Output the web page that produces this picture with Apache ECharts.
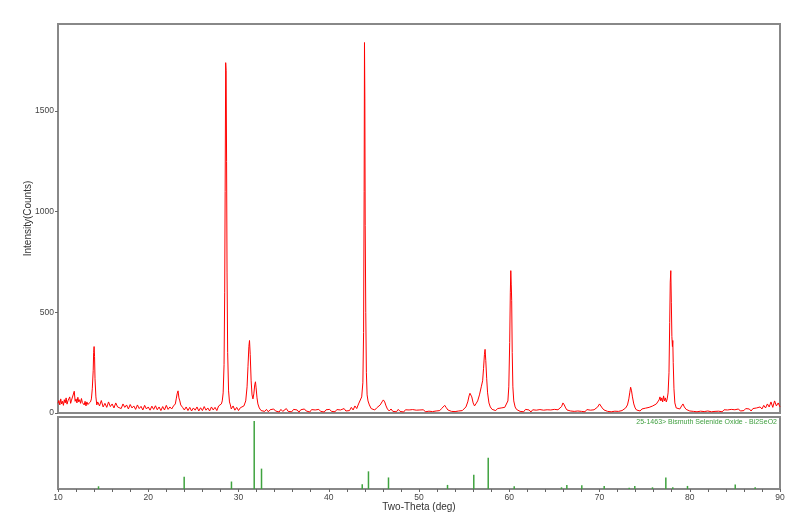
<!DOCTYPE html>
<html>
<head>
<meta charset="utf-8">
<script src="https://cdn.jsdelivr.net/npm/echarts@6/dist/echarts.min.js"></script>
<style>html,body{margin:0;padding:0;background:#fff}#c{width:800px;height:528px}</style>
</head>
<body>
<div id="c"></div>
<script>
// Measured XRD scan: [two-theta (deg), intensity (counts)]
const scan10to20 = [[10.0,48],[10.1,62],[10.2,40],[10.3,70],[10.4,45],[10.5,58],[10.6,38],[10.7,66],[10.8,50],[10.9,75],[11.0,44],[11.1,60],[11.2,52],[11.3,80],[11.4,48],[11.5,64],[11.6,55],[11.7,72],[11.8,108],[11.9,58],[12.0,70],[12.1,50],[12.2,78],[12.3,55],[12.4,66],[12.5,48],[12.6,72],[12.7,52],[12.8,60],[12.9,40],[13.0,58],[13.1,35],[13.2,55],[13.3,42],[13.4,50],[13.5,38],[13.6,55],[13.7,70],[13.8,120],[13.9,210],[13.95,300],[14.0,330],[14.05,280],[14.1,170],[14.2,80],[14.3,40],[14.4,55],[14.6,35],[14.8,62],[15.0,30],[15.2,48],[15.4,28],[15.6,55],[15.8,32],[16.0,45],[16.2,25],[16.4,50],[16.6,30],[16.8,38],[17.0,22],[17.2,45],[17.4,28],[17.6,40],[17.8,20],[18.0,42],[18.2,25],[18.4,35],[18.6,18],[18.8,40],[19.0,22],[19.2,33],[19.4,15],[19.6,38],[19.8,20]];
const scan20to30 = [[20.0,30],[20.2,14],[20.4,34],[20.6,18],[20.8,36],[21.0,16],[21.2,30],[21.4,12],[21.6,32],[21.8,15],[22.0,38],[22.2,18],[22.4,30],[22.6,20],[22.8,35],[23.0,45],[23.1,70],[23.2,95],[23.3,110],[23.4,75],[23.5,60],[23.6,40],[23.8,28],[24.0,15],[24.2,30],[24.4,12],[24.6,28],[24.8,10],[25.0,25],[25.2,14],[25.4,30],[25.6,10],[25.8,26],[26.0,12],[26.2,32],[26.4,14],[26.6,25],[26.8,10],[27.0,30],[27.2,15],[27.4,28],[27.6,12],[27.8,35],[28.0,30],[28.1,45],[28.2,60],[28.3,100],[28.4,240],[28.47,600],[28.52,1100],[28.58,1740],[28.63,1700],[28.68,1250],[28.73,700],[28.8,300],[28.9,110],[29.0,55],[29.1,40],[29.2,20],[29.4,35],[29.6,14],[29.8,28]];
const scan30to40 = [[30.0,12],[30.2,26],[30.4,18],[30.6,35],[30.8,60],[30.95,130],[31.05,230],[31.15,330],[31.22,360],[31.3,290],[31.4,160],[31.5,90],[31.6,70],[31.7,95],[31.8,140],[31.88,155],[31.95,125],[32.05,75],[32.15,45],[32.3,25],[32.5,12],[32.7,20],[32.9,8],[33.1,18],[33.3,6],[33.5,16],[33.7,8],[33.9,20],[34.1,10],[34.3,15],[34.5,5],[34.7,18],[34.9,8],[35.1,14],[35.3,22],[35.5,8],[35.7,16],[35.9,6],[36.1,18],[36.3,10],[36.5,15],[36.7,4],[36.9,16],[37.1,8],[37.3,20],[37.5,10],[37.7,14],[37.9,5],[38.1,17],[38.3,9],[38.5,15],[38.7,6],[38.9,18],[39.1,8],[39.3,14],[39.5,5],[39.7,16],[39.9,10]];
const scan40to50 = [[40.1,18],[40.3,8],[40.5,14],[40.7,6],[40.9,17],[41.1,10],[41.3,15],[41.5,8],[41.7,22],[41.9,10],[42.1,16],[42.3,12],[42.5,28],[42.7,15],[42.9,35],[43.1,22],[43.3,45],[43.5,50],[43.65,80],[43.78,150],[43.86,400],[43.92,1100],[43.96,1840],[44.0,1560],[44.04,930],[44.1,500],[44.17,200],[44.25,90],[44.35,60],[44.5,40],[44.7,22],[44.9,30],[45.1,15],[45.3,25],[45.5,30],[45.7,40],[45.9,55],[46.05,65],[46.2,55],[46.35,35],[46.5,20],[46.7,10],[46.9,20],[47.1,8],[47.3,16],[47.5,6],[47.7,18],[47.9,8],[48.1,14],[48.3,5],[48.5,16],[48.7,9],[48.9,15],[49.1,6],[49.3,17],[49.5,8],[49.7,14],[49.9,5]];
const scan50to60 = [[50.1,15],[50.3,8],[50.5,16],[50.7,6],[50.9,14],[51.1,9],[51.3,18],[51.5,7],[51.7,15],[51.9,10],[52.1,16],[52.3,12],[52.5,22],[52.7,30],[52.85,38],[53.0,28],[53.2,15],[53.4,20],[53.6,8],[53.8,16],[54.0,7],[54.2,14],[54.4,10],[54.6,18],[54.8,12],[55.0,20],[55.2,30],[55.4,55],[55.55,85],[55.65,98],[55.75,90],[55.85,80],[56.0,50],[56.15,35],[56.3,45],[56.5,60],[56.7,90],[56.9,130],[57.05,160],[57.15,220],[57.25,290],[57.32,316],[57.4,260],[57.5,170],[57.6,100],[57.75,50],[57.9,30],[58.1,18],[58.3,25],[58.5,12],[58.7,22],[58.9,15],[59.1,25],[59.3,18],[59.5,28],[59.7,35],[59.85,60],[59.95,130]];
const scan60to70 = [[60.05,350],[60.12,600],[60.17,707],[60.22,640],[60.27,560],[60.33,300],[60.4,130],[60.5,60],[60.65,30],[60.8,18],[61.0,22],[61.2,8],[61.4,16],[61.6,6],[61.8,18],[62.0,9],[62.2,15],[62.4,5],[62.6,16],[62.8,8],[63.0,14],[63.2,6],[63.4,17],[63.6,9],[63.8,14],[64.0,5],[64.2,16],[64.4,8],[64.6,15],[64.8,10],[65.0,18],[65.2,9],[65.4,16],[65.6,22],[65.8,32],[65.95,50],[66.1,40],[66.25,25],[66.4,15],[66.6,22],[66.8,10],[67.0,18],[67.2,8],[67.4,16],[67.6,10],[67.8,18],[68.0,8],[68.2,15],[68.4,6],[68.6,17],[68.8,9],[69.0,14],[69.2,8],[69.4,16],[69.6,22],[69.8,30]];
const scan70to80 = [[70.0,45],[70.15,38],[70.3,25],[70.5,15],[70.7,20],[70.9,8],[71.1,16],[71.3,6],[71.5,15],[71.7,9],[71.9,17],[72.1,8],[72.3,16],[72.5,12],[72.7,20],[72.9,25],[73.1,40],[73.25,70],[73.35,100],[73.45,128],[73.55,110],[73.65,80],[73.8,45],[73.95,25],[74.1,15],[74.3,22],[74.5,10],[74.7,20],[74.9,12],[75.1,24],[75.3,15],[75.5,28],[75.7,20],[75.9,35],[76.1,28],[76.3,45],[76.45,40],[76.6,65],[76.7,80],[76.8,60],[76.9,75],[77.0,55],[77.1,85],[77.2,60],[77.3,75],[77.4,55],[77.5,70],[77.6,100],[77.7,200],[77.78,450],[77.84,650],[77.9,707],[77.96,550],[78.02,380],[78.08,330],[78.12,360],[78.17,250],[78.25,120],[78.35,50],[78.5,25],[78.7,30],[78.9,20],[79.1,35],[79.25,45],[79.4,30],[79.6,18],[79.8,25]];
const scan80to90 = [[80.0,10],[80.2,18],[80.4,8],[80.6,16],[80.8,6],[81.0,15],[81.2,9],[81.4,17],[81.6,7],[81.8,14],[82.0,10],[82.2,16],[82.4,6],[82.6,15],[82.8,8],[83.0,17],[83.2,9],[83.4,14],[83.6,6],[83.8,16],[84.0,8],[84.2,15],[84.4,10],[84.6,18],[84.8,9],[85.0,16],[85.2,12],[85.4,20],[85.6,10],[85.8,18],[86.0,12],[86.2,22],[86.4,14],[86.6,20],[86.8,10],[87.0,22],[87.2,15],[87.4,25],[87.6,18],[87.8,30],[88.0,20],[88.2,38],[88.4,25],[88.6,45],[88.8,30],[89.0,55],[89.2,28],[89.4,60],[89.6,35],[89.8,50],[90.0,30]];

// Reference pattern 25-1463 (Bi2SeO2): positions and relative intensities
const refTheta = [14.49, 23.98, 29.22, 31.74, 32.55, 43.71, 44.40, 46.62, 53.16, 56.07, 57.67, 60.55, 65.79, 66.38, 68.04, 70.52, 73.29, 73.91, 75.87, 77.35, 78.12, 79.75, 85.04, 87.25];
const refInt   = [4, 18, 11, 100, 30, 7, 26, 17, 6, 21, 46, 4, 2.5, 6, 5.5, 4.5, 2, 4.5, 2.5, 17, 2.5, 4.5, 6.5, 2.5];

const yTicks = [0, 500, 1000, 1500];
const xTicks = [10, 20, 30, 40, 50, 60, 70, 80, 90];
const refLabel = '25-1463> Bismuth Selenide Oxide - Bi2SeO2';

const scan = [].concat(scan10to20, scan20to30, scan30to40, scan40to50, scan50to60, scan60to70, scan70to80, scan80to90);
const sticks = refTheta.map((t, i) => [t, refInt[i]]);

const chart = echarts.init(document.getElementById('c'), null, {renderer: 'canvas'});
const font = 'Liberation Sans, Arial, sans-serif';
chart.setOption({
  animation: false,
  backgroundColor: '#ffffff',
  grid: [
    {left: 58, right: 20, top: 24, height: 389, show: true, borderColor: '#888888', borderWidth: 2, backgroundColor: 'transparent'},
    {left: 58, right: 20, top: 417, height: 72, show: true, borderColor: '#888888', borderWidth: 2, backgroundColor: 'transparent'}
  ],
  xAxis: [
    {type: 'value', gridIndex: 0, min: xTicks[0], max: xTicks[xTicks.length - 1], interval: 10,
     axisLine: {show: false}, axisTick: {show: false}, axisLabel: {show: false}, splitLine: {show: false}},
    {type: 'value', gridIndex: 1, min: xTicks[0], max: xTicks[xTicks.length - 1], interval: 10,
     name: 'Two-Theta (deg)', nameLocation: 'middle', nameGap: 13, nameMoveOverlap: false,
     nameTextStyle: {fontFamily: font, fontSize: 10, color: '#333'},
     axisLine: {show: false},
     axisTick: {show: true, length: 3, lineStyle: {color: '#666'}},
     minorTick: {show: true, splitNumber: 5, length: 3, lineStyle: {color: '#666'}},
     axisLabel: {fontFamily: font, fontSize: 8.5, color: '#444', margin: 4},
     splitLine: {show: false}}
  ],
  yAxis: [
    {type: 'value', gridIndex: 0, min: 0, max: 1932, interval: 500,
     name: 'Intensity(Counts)', nameLocation: 'middle', nameGap: 25, nameMoveOverlap: false,
     nameTextStyle: {fontFamily: font, fontSize: 10, color: '#333'},
     axisLine: {show: false},
     axisTick: {show: true, length: 3, customValues: yTicks, lineStyle: {color: '#666'}},
     axisLabel: {fontFamily: font, fontSize: 8.5, color: '#444', margin: 4, customValues: yTicks,
       formatter: v => String(v)},
     splitLine: {show: false}},
    {type: 'value', gridIndex: 1, min: 0, max: 106,
     axisLine: {show: false}, axisTick: {show: false}, axisLabel: {show: false}, splitLine: {show: false}}
  ],
  graphic: [
    {type: 'text', right: 23, top: 419,
     style: {text: refLabel, fill: '#3f9f3f', font: '7px ' + font, textAlign: 'right'}}
  ],
  series: [
    {type: 'line', xAxisIndex: 0, yAxisIndex: 0, data: scan, symbol: 'none', smooth: false,
     lineStyle: {color: '#ff0000', width: 1}, silent: true},
    {type: 'bar', xAxisIndex: 1, yAxisIndex: 1, data: sticks, barWidth: 1.5,
     itemStyle: {color: '#3fa33f'}, silent: true}
  ]
});
</script>
</body>
</html>
